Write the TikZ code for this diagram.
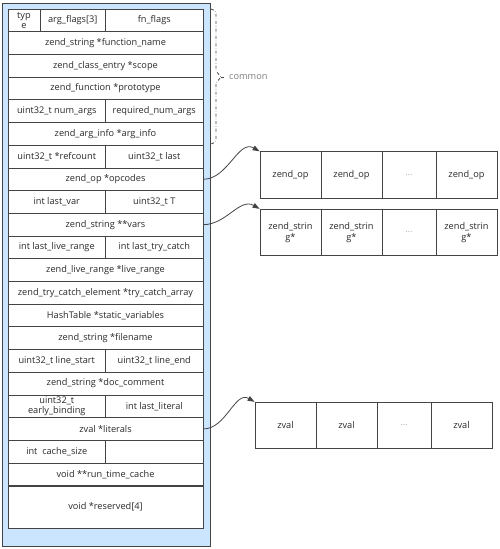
\documentclass[tikz,border=0pt]{standalone}
\usepackage{fontspec}
\setmainfont{Open Sans}
\usetikzlibrary{arrows.meta}
\definecolor{boxblue}{HTML}{CCE5FF}
\definecolor{edgegray}{HTML}{444444}
\definecolor{txtgray}{HTML}{2A2A2A}
\tikzset{
  cell/.style={draw=edgegray, line width=0.8pt, fill=white, inner sep=0pt,
    minimum height=22.7pt, align=center, text=txtgray,
    font=\fontsize{9.2}{10.5}\selectfont},
  full/.style={cell, minimum width=195pt},
  halfcell/.style={cell, minimum width=97.5pt},
  slot/.style={cell, minimum width=61pt, minimum height=46.5pt},
  ptr/.style={-{Triangle[length=7pt,width=5pt]}, edgegray, line width=0.8pt},
}
\begin{document}
\begin{tikzpicture}[x=1pt,y=-1pt]
    \useasboundingbox (0,0) rectangle (500,549);

    % zend_op_array frame
    \draw[draw=edgegray, fill=boxblue, line width=1pt] (2,3) rectangle (210,546);

    % first row
    \node[cell, minimum width=32pt] (type) at (24,20.35) {typ\\e};
    \node[cell, minimum width=65.5pt] (argflags) at (72.75,20.35) {arg\_flags[3]};
    \node[halfcell] (fnflags) at (154.25,20.35) {fn\_flags};

    % full rows
    \foreach \r/\name/\txt in {
        2/fname/{zend\_string *function\_name},
        3/scope/{zend\_class\_entry *scope},
        4/proto/{zend\_function *prototype},
        6/arginfo/{zend\_arg\_info *arg\_info},
        8/opcodes/{zend\_op *opcodes},
        10/vars/{zend\_string **vars},
        12/liverange/{zend\_live\_range *live\_range},
        13/trycatch/{zend\_try\_catch\_element *try\_catch\_array},
        14/statics/{HashTable *static\_variables},
        15/filename/{zend\_string *filename},
        17/doccomment/{zend\_string *doc\_comment},
        19/literals/{zval *literals},
        21/rtcache/{void **run\_time\_cache}}
        \node[full] (\name) at (105.5,{9+(\r-0.5)*22.7}) {\txt};

    % split rows
    \foreach \r/\lname/\ltxt/\rname/\rtxt in {
        5/numargs/{uint32\_t num\_args}/reqargs/{required\_num\_args},
        7/refcount/{uint32\_t *refcount}/last/{uint32\_t last},
        9/lastvar/{int last\_var}/tcount/{uint32\_t T},
        11/lastlive/{int last\_live\_range}/lasttry/{int last\_try\_catch},
        16/linestart/{uint32\_t line\_start}/lineend/{uint32\_t line\_end},
        18/earlybind/{uint32\_t\\early\_binding}/lastlit/{int last\_literal},
        20/cachesize/{int~~cache\_size}/spare/{}}
    {
        \node[halfcell] (\lname) at (56.75,{9+(\r-0.5)*22.7}) {\ltxt};
        \node[halfcell] (\rname) at (154.25,{9+(\r-0.5)*22.7}) {\rtxt};
    }

    \node[full, minimum height=42pt] (reserved) at (105.5,507) {void *reserved[4]};

    % common part brace
    \coordinate (bracetop) at (211,9);
    \coordinate (bracebot) at (211,144);
    \coordinate (bracetip) at (221,77);
    \node[right, text=gray, font=\fontsize{9.2}{10.5}\selectfont, inner sep=1pt] (common) at (228,77) {common};
    \draw[edgegray, dash dot, line width=0.8pt] (bracetop) to[out=0,in=90] (216,14)
        -- (216,71) -- (bracetip) -- (216,83) -- (216,139) to[out=-90,in=0] (bracebot);
    \draw[edgegray, dash dot, line width=0.8pt, shorten >=2pt] (bracetip) -- (common.west);

    % opcodes array
    \node[slot] (op1) at (290.5,175) {zend\_op};
    \node[slot] (op2) at (351.5,175) {zend\_op};
    \node[slot, minimum width=54pt, text=gray!60] (op3) at (409,175) {\ldots};
    \node[slot] (op4) at (466.5,175) {zend\_op};

    % vars array
    \node[slot] (str1) at (290.5,232.5) {zend\_strin\\g*};
    \node[slot] (str2) at (351.5,232.5) {zend\_strin\\g*};
    \node[slot, minimum width=54pt, text=gray!60] (str3) at (409,232.5) {\ldots};
    \node[slot] (str4) at (466.5,232.5) {zend\_strin\\g*};

    % literals array
    \node[slot] (zv1) at (285.5,425.5) {zval};
    \node[slot] (zv2) at (346.5,425.5) {zval};
    \node[slot, minimum width=54pt, text=gray!60] (zv3) at (404,425.5) {\ldots};
    \node[slot] (zv4) at (461.5,425.5) {zval};

    % pointers
    \draw[ptr] (opcodes.east) to[out=0,in=150] (op1.north west);
    \draw[ptr] (vars.east) to[out=0,in=150] (str1.north west);
    \draw[ptr] (literals.east) to[out=0,in=150] (zv1.north west);
\end{tikzpicture}
\end{document}
